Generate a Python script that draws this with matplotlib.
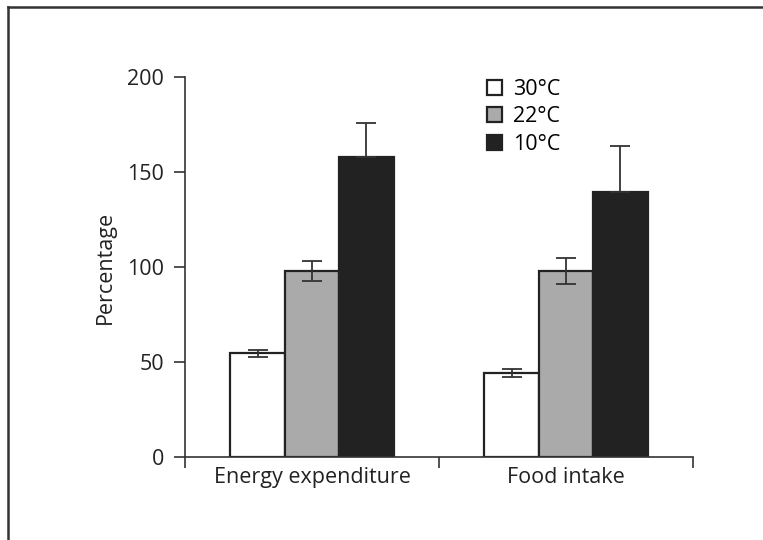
import matplotlib.pyplot as plt
import numpy as np
from matplotlib.patches import Patch
from matplotlib.lines import Line2D

plt.rcParams['font.family'] = ['Open Sans', 'DejaVu Sans']

categories = ["Energy expenditure", "Food intake"]
temps = ["30°C", "22°C", "10°C"]
values = {
    "30°C": [54.5, 44.2],
    "22°C": [98.0, 98.0],
    "10°C": [158.0, 139.6],
}
errors = {
    "30°C": [2.0, 2.0],
    "22°C": [5.3, 7.0],
    "10°C": [18.0, 24.0],
}
colors = {"30°C": "white", "22°C": "#aaaaaa", "10°C": "#222222"}

fig = plt.figure(figsize=(7.63, 5.4), dpi=100)
ax = fig.add_axes([0.2425, 0.1537, 0.6658, 0.7037])

x = np.arange(len(categories))
width = 0.214
edge = "#222222"
fs = 15.5
for i, t in enumerate(temps):
    pos = x + (i - 1) * width
    ax.bar(pos, values[t], width, color=colors[t], edgecolor=edge, linewidth=1.6, zorder=2)
    if t == "10°C":
        yerr = [np.zeros(len(x)), errors[t]]
    else:
        yerr = errors[t]
    ax.errorbar(pos, values[t], yerr=yerr, fmt='none', ecolor="#333333",
                elinewidth=1.3, capsize=7.5, capthick=1.3, zorder=3)

ax.set_xlim(-0.5, 1.5)
ax.set_ylim(0, 200)
ax.set_yticks([0, 50, 100, 150, 200])
ax.set_xticks([-0.5, 0.5, 1.5])
ax.set_xticklabels([])
ax.set_xticks(x, minor=True)
ax.set_xticklabels(categories, minor=True)
ax.tick_params(axis='x', which='minor', length=0, pad=7, labelsize=fs, labelcolor="#222222")
ax.tick_params(axis='x', which='major', direction='out', length=8, width=1.2, color="#333333")
ax.tick_params(axis='y', direction='out', length=8, width=1.2, color="#333333",
               labelsize=fs, labelcolor="#222222", pad=7)
ax.spines['top'].set_visible(False)
ax.spines['right'].set_visible(False)
for s in ['left', 'bottom']:
    ax.spines[s].set_linewidth(1.2)
    ax.spines[s].set_color("#333333")
ax.set_ylabel("Percentage", fontsize=fs, color="#222222", labelpad=8)

handles = [Patch(facecolor=colors[t], edgecolor=edge, linewidth=1.6, label=t) for t in temps]
ax.legend(handles=handles, loc='upper left', bbox_to_anchor=(0.578, 1.018), frameon=False,
          fontsize=fs, handlelength=0.7, handleheight=0.7, handletextpad=0.5,
          labelspacing=0.3, borderaxespad=0)

# outer frame of the original figure
fig.add_artist(Line2D([8 / 763, 1], [1 - 7 / 540, 1 - 7 / 540], color="#333333", linewidth=1.8))
fig.add_artist(Line2D([8 / 763, 8 / 763], [0, 1 - 7 / 540], color="#333333", linewidth=1.8))

fig.savefig("out.png", dpi=100)
